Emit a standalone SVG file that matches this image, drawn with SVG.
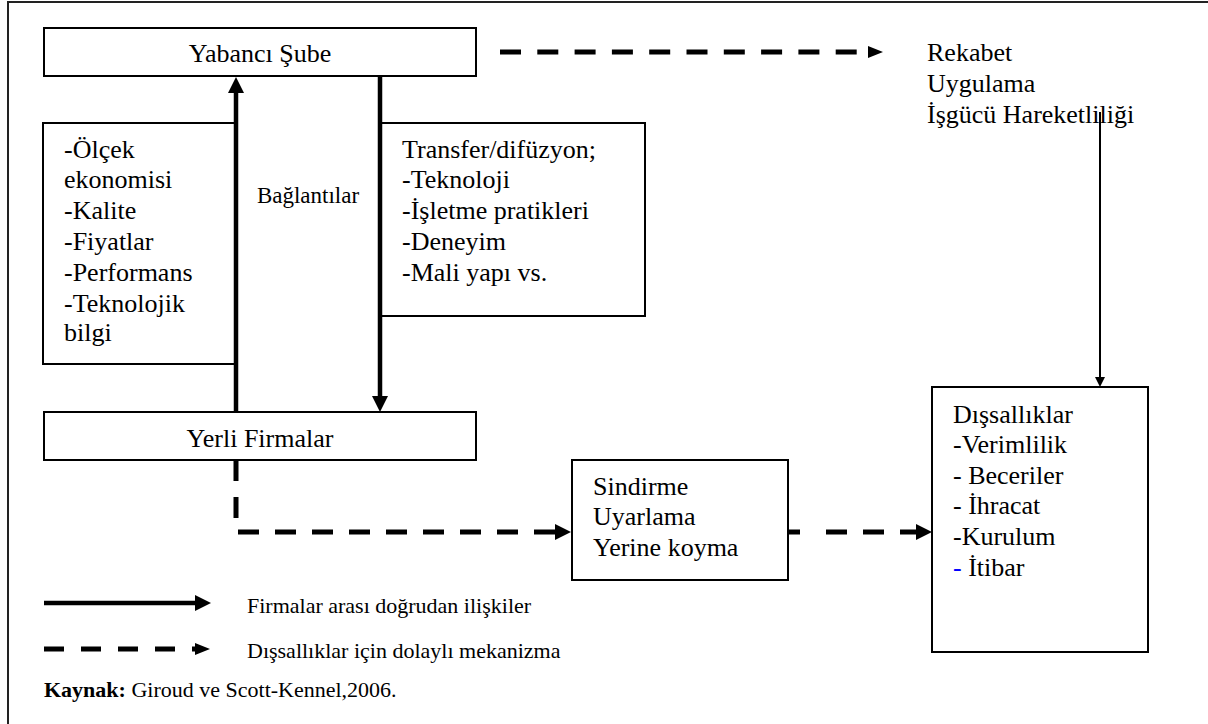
<svg xmlns="http://www.w3.org/2000/svg" width="1208" height="724" viewBox="0 0 1208 724" font-family="Liberation Serif, serif">
<style>
text{font-family:"Liberation Serif",serif;fill:#000;}
.t{font-size:26px;}
.s{font-size:22px;}
.box{fill:#fff;stroke:#000;stroke-width:2;}
.thick{fill:none;stroke:#000;stroke-width:4.5;}
.dash{fill:none;stroke:#000;stroke-width:5;stroke-dasharray:21 16;}
.thin{fill:none;stroke:#000;stroke-width:2;}
</style>
<defs>
<marker id="ah" markerUnits="userSpaceOnUse" viewBox="0 -8 16 16" markerWidth="16" markerHeight="16" refX="0" refY="0" orient="auto">
<path d="M0,-8 L16,0 L0,8 Z" fill="#000"/>
</marker>
<marker id="ahs" markerUnits="userSpaceOnUse" viewBox="0 -6 15 12" markerWidth="15" markerHeight="12" refX="0" refY="0" orient="auto">
<path d="M0,-6 L15,0 L0,6 Z" fill="#000"/>
</marker>
<marker id="aht" markerUnits="userSpaceOnUse" viewBox="0 -5 10 10" markerWidth="10" markerHeight="10" refX="0" refY="0" orient="auto">
<path d="M0,-5 L10,0 L0,5 Z" fill="#000"/>
</marker>
</defs>
<rect x="0" y="0" width="1208" height="724" fill="#fff"/>
<rect x="8" y="2" width="1220" height="740" fill="none" stroke="#222" stroke-width="2"/>

<g id="yabanci-sube">
<rect class="box" x="44" y="28" width="432" height="48"/>
<text class="t" x="260" y="62" text-anchor="middle">Yabancı Şube</text>
</g>

<g id="olcek-box">
<rect class="box" x="43" y="123" width="193" height="241"/>
<text class="t" x="64" y="158">-Ölçek</text>
<text class="t" x="64" y="188">ekonomisi</text>
<text class="t" x="64" y="219">-Kalite</text>
<text class="t" x="64" y="250">-Fiyatlar</text>
<text class="t" x="64" y="281">-Performans</text>
<text class="t" x="64" y="312">-Teknolojik</text>
<text class="t" x="64" y="341">bilgi</text>
</g>

<g id="baglantilar">
<text x="308" y="203" text-anchor="middle" style="font-size:23px">Bağlantılar</text>
</g>

<g id="transfer-box">
<rect class="box" x="380" y="123" width="265" height="193"/>
<text class="t" x="402" y="158">Transfer/difüzyon;</text>
<text class="t" x="402" y="188">-Teknoloji</text>
<text class="t" x="402" y="219">-İşletme pratikleri</text>
<text class="t" x="402" y="250">-Deneyim</text>
<text class="t" x="402" y="281">-Mali yapı vs.</text>
</g>

<g id="yerli-firmalar">
<rect class="box" x="44" y="412" width="432" height="48"/>
<text class="t" x="260" y="447" text-anchor="middle">Yerli Firmalar</text>
</g>

<g id="rekabet">
<text class="t" x="927" y="61">Rekabet</text>
<text class="t" x="927" y="92">Uygulama</text>
<text class="t" x="927" y="123">İşgücü Hareketliliği</text>
</g>

<g id="sindirme-box">
<rect class="box" x="572" y="460" width="216" height="120"/>
<text class="t" x="593" y="495">Sindirme</text>
<text class="t" x="593" y="525">Uyarlama</text>
<text class="t" x="593" y="556">Yerine koyma</text>
</g>

<g id="dissalliklar-box">
<rect class="box" x="932" y="387" width="216" height="265"/>
<text class="t" x="953" y="423">Dışsallıklar</text>
<text class="t" x="953" y="453">-Verimlilik</text>
<text class="t" x="953" y="484">- Beceriler</text>
<text class="t" x="953" y="514">- İhracat</text>
<text class="t" x="953" y="545">-Kurulum</text>
<text class="t" x="953" y="576"><tspan fill="#0000ff">-</tspan> İtibar</text>
</g>

<g id="connectors">
<line class="thick" x1="236" y1="412" x2="236" y2="93" marker-end="url(#ah)"/>
<line class="thick" x1="380" y1="76" x2="380" y2="396" marker-end="url(#ah)"/>
<line class="dash" x1="500" y1="52" x2="868" y2="52" style="stroke-dasharray:21 16.3" marker-end="url(#ahs)"/>
<line class="thin" x1="1100" y1="112" x2="1100" y2="377" marker-end="url(#aht)"/>
<path class="dash" d="M236,460 L236,532 L555,532" marker-end="url(#ah)"/>
<line class="dash" x1="788" y1="532" x2="916" y2="532" style="stroke-dasharray:12 26 21 16 21 16 21" marker-end="url(#ah)"/>
</g>

<g id="legend">
<line class="thick" x1="44" y1="603" x2="195" y2="603" marker-end="url(#ah)"/>
<text class="s" x="247" y="613">Firmalar arası doğrudan ilişkiler</text>
<line class="dash" x1="44" y1="649" x2="195" y2="649" style="stroke-dasharray:20 17" marker-end="url(#ahs)"/>
<text class="s" x="247" y="658">Dışsallıklar için dolaylı mekanizma</text>
<text class="s" x="44" y="697"><tspan font-weight="bold">Kaynak:</tspan> Giroud ve Scott-Kennel,2006.</text>
</g>
</svg>
